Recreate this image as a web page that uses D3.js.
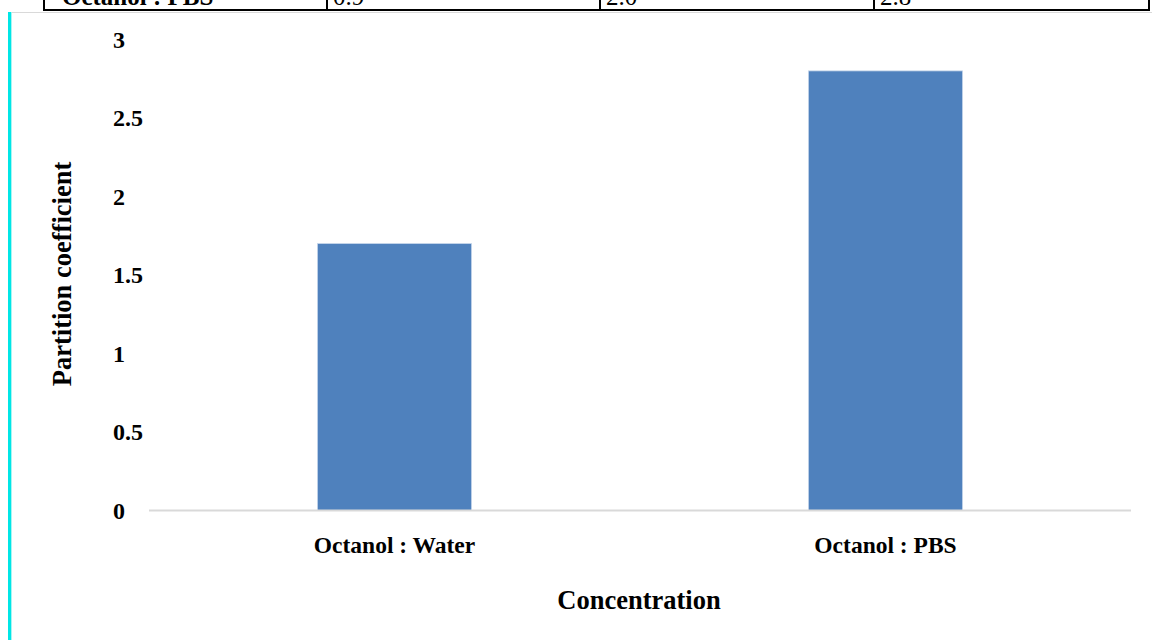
<!DOCTYPE html>
<html>
<head>
<meta charset="utf-8">
<script src="https://cdn.jsdelivr.net/npm/d3@7/dist/d3.min.js"></script>
<style>
  html, body { margin: 0; padding: 0; background: #fff; }
  svg { display: block; }
  text { font-family: "Liberation Serif", "Times New Roman", serif; font-weight: bold; fill: #000; }
</style>
</head>
<body>
<script>
// Partition coefficient of the compound in two solvent systems
const categories = ["Octanol : Water", "Octanol : PBS"];
const partitionValues = [1.7, 2.8];
const yTickValues = [0, 0.5, 1, 1.5, 2, 2.5, 3];
const yTickLabels = ["0", "0.5", "1", "1.5", "2", "2.5", "3"];

// Last row of the table printed above the chart
const tableRow = ["Octanol : PBS", "0.9", "2.0", "2.8"];

const W = 1152, H = 640;
const svg = d3.select("body").append("svg").attr("width", W).attr("height", H);

// ---- table row fragment at the top ----
const colEdges = [44, 327, 600, 874, 1149];
const tbl = svg.append("g");
tbl.append("line").attr("x1", colEdges[0] - 1).attr("x2", colEdges[4] + 1)
  .attr("y1", 10).attr("y2", 10).attr("stroke", "#000").attr("stroke-width", 2);
colEdges.forEach(x => {
  tbl.append("line").attr("x1", x).attr("x2", x).attr("y1", -2).attr("y2", 11)
    .attr("stroke", "#000").attr("stroke-width", 2);
});
tableRow.forEach((t, i) => {
  tbl.append("text")
    .attr("x", colEdges[i] + (i === 0 ? 18 : 6))
    .attr("y", 5)
    .style("font-size", "25px")
    .style("font-weight", i === 0 ? "bold" : "normal")
    .text(t);
});

// ---- frame: gray rule and cyan side bar ----
svg.append("line").attr("x1", 10).attr("x2", W).attr("y1", 12.5).attr("y2", 12.5)
  .attr("stroke", "#d9d9d9").attr("stroke-width", 1);
svg.append("rect").attr("x", 8).attr("y", 12).attr("width", 3).attr("height", H - 12).attr("fill", "#00e6e6");
svg.append("rect").attr("x", 11).attr("y", 12).attr("width", 1).attr("height", H - 12).attr("fill", "#a8f4f4");

// ---- chart ----
const plotLeft = 149, plotRight = 1131;
const y = d3.scaleLinear().domain([0, 3]).range([510.5, 39.5]);
const x = d3.scaleBand().domain(categories).range([plotLeft, plotRight])
  .paddingInner(0.686).paddingOuter(0.343);

// bars
svg.append("g").selectAll("rect")
  .data(categories.map((c, i) => ({ c, v: partitionValues[i] })))
  .join("rect")
  .attr("x", d => x(d.c))
  .attr("y", d => y(d.v))
  .attr("width", x.bandwidth())
  .attr("height", d => y(0) - y(d.v))
  .attr("fill", "#4f81bd")
  .attr("stroke", "#c5d5ea")
  .attr("stroke-width", 0.8);

// category axis line
svg.append("line").attr("x1", plotLeft).attr("x2", plotRight)
  .attr("y1", y(0)).attr("y2", y(0))
  .attr("stroke", "#d9d9d9").attr("stroke-width", 2);

// y axis labels (no axis line, no gridlines), left-aligned in their column
const yAxis = d3.axisLeft(y).tickValues(yTickValues)
  .tickFormat((d, i) => yTickLabels[i]).tickSize(0).tickPadding(0);
const gy = svg.append("g").attr("transform", "translate(113,0)").call(yAxis);
gy.select(".domain").remove();
gy.selectAll("text").attr("text-anchor", "start").style("font-size", "24px")
  .style("font-family", "'Liberation Serif', 'Times New Roman', serif")
  .style("font-weight", "bold").attr("fill", "#000");

// x axis labels
const xAxis = d3.axisBottom(x).tickSize(0).tickPadding(0);
const gx = svg.append("g").attr("transform", "translate(0,536)").call(xAxis);
gx.select(".domain").remove();
gx.selectAll("text").style("font-size", "23.5px")
  .style("font-family", "'Liberation Serif', 'Times New Roman', serif")
  .style("font-weight", "bold").attr("fill", "#000");

// axis titles
svg.append("text").attr("x", (plotLeft + plotRight) / 2 - 1).attr("y", 609)
  .attr("text-anchor", "middle").style("font-size", "26.5px").text("Concentration");
svg.append("text").attr("transform", "translate(71,274) rotate(-90)")
  .attr("text-anchor", "middle").style("font-size", "26.5px").text("Partition coefficient");
</script>
</body>
</html>
